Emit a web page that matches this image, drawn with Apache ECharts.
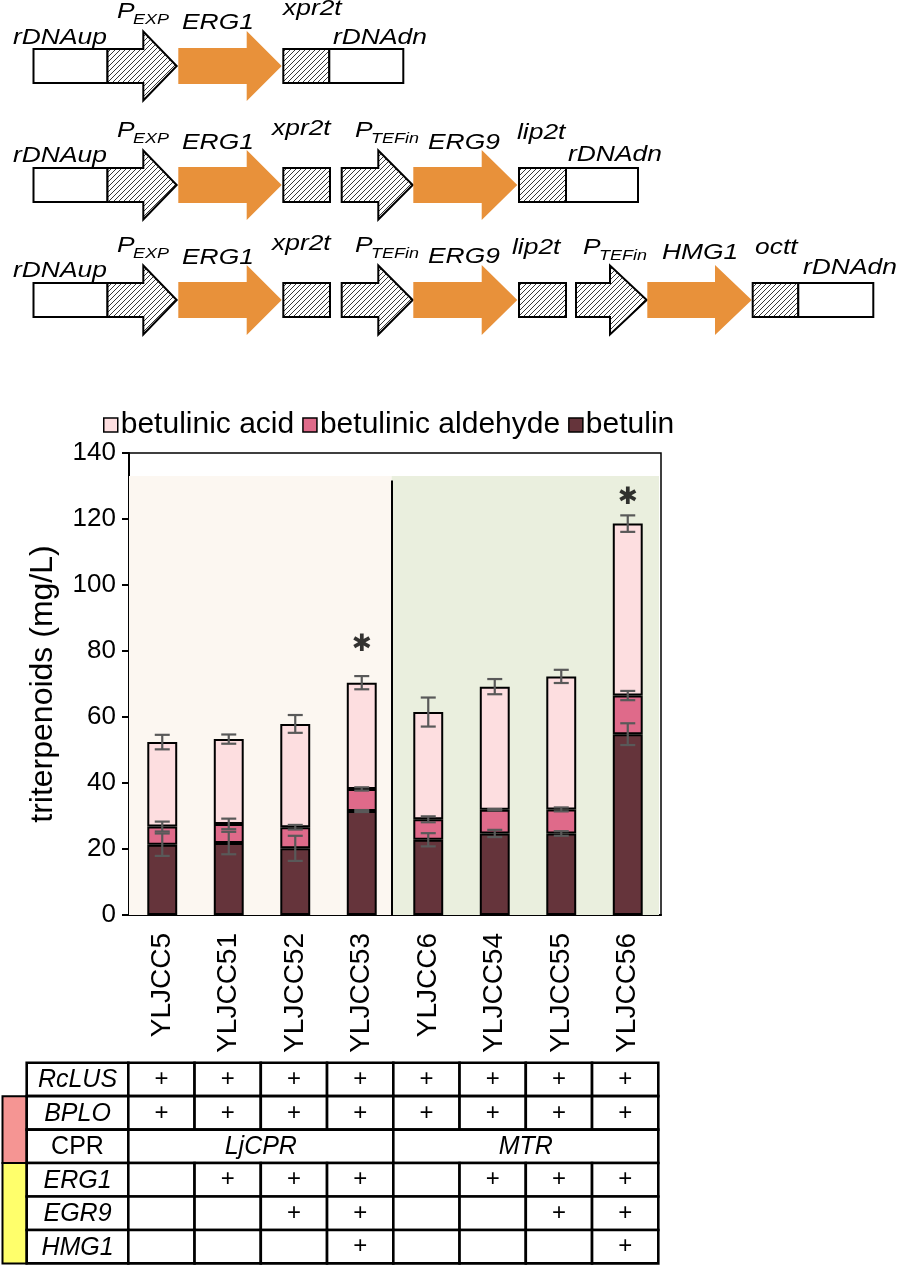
<!DOCTYPE html>
<html><head><meta charset="utf-8">
<script src="https://cdn.jsdelivr.net/npm/echarts@6/dist/echarts.min.js"></script>
<style>html,body{margin:0;padding:0;background:#fff}#c{width:898px;height:1266px}</style>
</head><body><div id="c"></div>
<script>
// ---------- DATA ----------
const categories = ['YLJCC5','YLJCC51','YLJCC52','YLJCC53','YLJCC6','YLJCC54','YLJCC55','YLJCC56'];
const betulin = [21.3, 21.8, 20.2, 31.5, 22.8, 24.7, 24.7, 54.8];
const betulinicAldehyde = [5.5, 5.8, 6.4, 6.7, 6.2, 7.2, 7.3, 11.7];
const betulinicAcid = [25.6, 25.7, 31.3, 32.2, 32.5, 37.3, 40.3, 52.1];
const errBetulin = [3.4, 3.4, 3.8, 0.3, 2.0, 1.1, 0.7, 3.3];
const errAldehyde = [1.5, 1.6, 0.7, 0.5, 0.9, 0.2, 0.6, 1.4];
const errAcid = [2.2, 1.4, 2.7, 2.0, 4.4, 2.3, 2.0, 2.5];
const starY = [null, null, null, 82, null, null, null, 126.5];
const yMin = 0, yMax = 140, yInterval = 20;
const legendNames = ['betulinic acid', 'betulinic aldehyde', 'betulin'];

const tableRowLabels = ['RcLUS', 'BPLO', 'CPR', 'ERG1', 'EGR9', 'HMG1'];
const tableRowItalic = [true, true, false, true, true, true];
const rowRcLUS = [1,1,1,1,1,1,1,1];
const rowBPLO  = [1,1,1,1,1,1,1,1];
const cprGroups = ['LjCPR', 'MTR'];
const cprSpan = [4, 4];
const rowERG1 = [0,1,1,1,0,1,1,1];
const rowEGR9 = [0,0,1,1,0,0,1,1];
const rowHMG1 = [0,0,0,1,0,0,0,1];

// ---------- STYLE ----------
const FONT = '"Liberation Sans", Arial, Helvetica, sans-serif';
const C_BETULIN = '#65343B', C_ALD = '#DF6A8A', C_ACID = '#FDDEE0';
const ORANGE = '#E8913A';

function hatchCanvas(){
  const s = 5;
  const c = document.createElement('canvas'); c.width = s; c.height = s;
  const g = c.getContext('2d');
  g.fillStyle = '#fff'; g.fillRect(0,0,s,s);
  g.strokeStyle = '#222'; g.lineWidth = 0.9;
  g.beginPath();
  g.moveTo(0,s); g.lineTo(s,0);
  g.moveTo(-1,1); g.lineTo(1,-1);
  g.moveTo(s-1,s+1); g.lineTo(s+1,s-1);
  g.stroke();
  return c;
}
const HATCH = {image: hatchCanvas(), repeat: 'repeat'};

// ---------- GENE CONSTRUCT DIAGRAMS ----------
const graphics = [];
function box(x0,x1,cy,fill){
  graphics.push({type:'rect', shape:{x:x0,y:cy-17,width:x1-x0,height:34},
    style:{fill:fill, stroke:'#000', lineWidth:2}, z:10});
}
function arrow(x0,xb,xt,cy,fill,stroke,bh,hh){
  const pts = [[x0,cy-bh],[xb,cy-bh],[xb,cy-hh],[xt,cy],[xb,cy+hh],[xb,cy+bh],[x0,cy+bh]];
  graphics.push({type:'polygon', shape:{points:pts},
    style: stroke ? {fill:fill, stroke:'#000', lineWidth:2, lineJoin:'miter'} : {fill:fill}, z:10});
}
function prom(x0,xb,xt,cy){ arrow(x0,xb,xt,cy,HATCH,true,17,34.5); }
function gene(x0,xb,xt,cy){ arrow(x0,xb,xt,cy,ORANGE,false,18,35); }
function lab(t,x,y,size){
  graphics.push({type:'text', x:x, y:y, scaleX:1.2, z:11,
    style:{text:t, font:'italic '+(size||22)+'px '+FONT, fill:'#000', align:'left', verticalAlign:'middle'}});
}
function plab(sub,x,y){
  lab('P',x,y,22);
  lab(sub,x+16,y+8,15);
}

// row 1
(function(){
  const cy = 66;
  box(33.5,107.5,cy,'#fff'); prom(107.5,143.3,176.7,cy); gene(178.3,246.7,281.7,cy);
  box(283.3,329.3,cy,HATCH); box(329.3,403.3,cy,'#fff');
  lab('rDNAup',13,cy-28); plab('EXP',117,cy-54); lab('ERG1',182,cy-43);
  lab('xpr2t',283,cy-57); lab('rDNAdn',333,cy-28);
})();
// row 2
(function(){
  const cy = 185;
  box(33.5,107.5,cy,'#fff'); prom(107.5,143.3,176.7,cy); gene(178.3,246.7,281.7,cy);
  box(283.3,330,cy,HATCH); prom(341.7,378.3,412.7,cy); gene(413.3,481.7,517.3,cy);
  box(519,566,cy,HATCH); box(566,638,cy,'#fff');
  lab('rDNAup',13,cy-29); plab('EXP',117,cy-54); lab('ERG1',182,cy-42);
  lab('xpr2t',272,cy-56); plab('TEFin',355,cy-54); lab('ERG9',428,cy-42);
  lab('lip2t',517,cy-52); lab('rDNAdn',568,cy-30);
})();
// row 3
(function(){
  const cy = 300;
  box(33.5,107.5,cy,'#fff'); prom(107.5,143.3,176.7,cy); gene(178.3,246.7,281.7,cy);
  box(283.3,330,cy,HATCH); prom(341.7,378.3,412.7,cy); gene(413.3,481.7,517.3,cy);
  box(519,566,cy,HATCH); prom(576,610,646.7,cy); gene(647.3,715,751.7,cy);
  box(752.7,798.3,cy,HATCH); box(798.3,873.3,cy,'#fff');
  lab('rDNAup',13,cy-29); plab('EXP',117,cy-54); lab('ERG1',182,cy-42);
  lab('xpr2t',272,cy-56); plab('TEFin',355,cy-54); lab('ERG9',428,cy-43);
  lab('lip2t',512,cy-52); plab('TEFin',583,cy-52); lab('HMG1',662,cy-47);
  lab('octt',755,cy-52); lab('rDNAdn',803,cy-32);
})();

// ---------- TABLE ----------
(function(){
  const labL = 26.7, colL = 128.3, colW = 66.25, top = 1062.7, rowH = 33.45, LW = 2.6;
  const rows = [rowRcLUS, rowBPLO, null, rowERG1, rowEGR9, rowHMG1];
  graphics.push({type:'rect', shape:{x:2.5,y:top+rowH,width:labL-2.5,height:rowH*2},
    style:{fill:'#F59593',stroke:'#000',lineWidth:2}, z:9});
  graphics.push({type:'rect', shape:{x:2.5,y:top+rowH*3,width:labL-2.5,height:rowH*3},
    style:{fill:'#FFFF6B',stroke:'#000',lineWidth:2}, z:9});
  tableRowLabels.forEach((name, r) => {
    const y = top + r*rowH;
    graphics.push({type:'rect', shape:{x:labL,y:y,width:colL-labL,height:rowH},
      style:{fill:'#fff',stroke:'#000',lineWidth:LW}, z:10});
    graphics.push({type:'text', x:(labL+colL)/2, y:y+rowH/2+1, z:12,
      style:{text:name, font:(tableRowItalic[r]?'italic ':'')+'25px '+FONT, fill:'#000', align:'center', verticalAlign:'middle'}});
    if (rows[r]) {
      rows[r].forEach((v, c) => {
        const x = colL + c*colW;
        graphics.push({type:'rect', shape:{x:x,y:y,width:colW,height:rowH},
          style:{fill:'#fff',stroke:'#000',lineWidth:LW}, z:10});
        if (v) graphics.push({type:'text', x:x+colW/2, y:y+rowH/2, z:12,
          style:{text:'+', font:'24px '+FONT, fill:'#000', align:'center', verticalAlign:'middle'}});
      });
    } else {
      let c0 = 0;
      cprGroups.forEach((g, k) => {
        const x = colL + c0*colW, w = cprSpan[k]*colW;
        graphics.push({type:'rect', shape:{x:x,y:y,width:w,height:rowH},
          style:{fill:'#fff',stroke:'#000',lineWidth:LW}, z:10});
        graphics.push({type:'text', x:x+w/2, y:y+rowH/2+1, z:12,
          style:{text:g, font:'italic 25px '+FONT, fill:'#000', align:'center', verticalAlign:'middle'}});
        c0 += cprSpan[k];
      });
    }
  });
})();

// ---------- ERROR BARS ----------
const errData = [];
categories.forEach((c, i) => {
  const t1 = betulin[i], t2 = t1 + betulinicAldehyde[i], t3 = t2 + betulinicAcid[i];
  errData.push([i, t1, errBetulin[i]], [i, t2, errAldehyde[i]], [i, t3, errAcid[i]]);
});
const starData = [];
starY.forEach((v, i) => { if (v != null) starData.push([i, v]); });

const chart = echarts.init(document.getElementById('c'), null, {renderer:'canvas', width:898, height:1266});
const option = {
  animation: false,
  backgroundColor: '#fff',
  textStyle: {fontFamily: FONT},
  legend: {
    data: legendNames, left: 103, top: 410, icon: 'rect', padding: 0,
    itemWidth: 14, itemHeight: 14, itemGap: 8,
    itemStyle: {borderColor: '#000', borderWidth: 1.5},
    textStyle: {fontSize: 30, color: '#000', fontFamily: FONT, padding: [0,0,0,-2]}
  },
  grid: {left: 129, top: 453, width: 532, height: 462, show: true, borderColor: '#000', borderWidth: 1.5, backgroundColor: 'transparent'},
  xAxis: [{
    type: 'category', data: categories,
    axisLine: {lineStyle: {color: '#000', width: 2}},
    axisTick: {alignWithLabel: true, length: 7, lineStyle: {color: '#000', width: 2}},
    axisLabel: {rotate: 90, fontSize: 28, color: '#000', margin: 18, fontFamily: FONT}
  }, {
    type: 'value', min: 0, max: 8, show: false
  }],
  yAxis: {
    type: 'value', min: yMin, max: yMax, interval: yInterval,
    name: 'triterpenoids (mg/L)', nameLocation: 'middle', nameGap: 70, nameRotate: 90,
    nameTextStyle: {fontSize: 32, color: '#000', fontFamily: FONT},
    axisLine: {show: true, lineStyle: {color: '#000', width: 2}},
    axisTick: {show: true, length: 7, lineStyle: {color: '#000', width: 2}},
    axisLabel: {fontSize: 26, color: '#000', margin: 13, fontFamily: FONT},
    splitLine: {show: false}
  },
  series: [
    {
      name: 'bg', type: 'line', xAxisIndex: 1, data: [[0,0]], showSymbol: false, silent: true,
      lineStyle: {opacity: 0}, z: 0,
      markArea: {silent: true, itemStyle: {opacity: 1},
        data: [
          [{xAxis: 0, yAxis: 0, itemStyle: {color: '#FCF7F1'}}, {xAxis: 3.95, yAxis: 133}],
          [{xAxis: 3.95, yAxis: 0, itemStyle: {color: '#EAEFDE'}}, {xAxis: 7.97, yAxis: 133}]
        ]},
      markLine: {silent: true, symbol: 'none', label: {show: false},
        lineStyle: {color: '#000', width: 2, type: 'solid'},
        data: [[{coord: [3.95, 0]}, {coord: [3.95, 131.7]}]]}
    },
    {name: 'betulin', type: 'bar', stack: 'total', data: betulin, barWidth: '45%',
      itemStyle: {color: C_BETULIN, borderColor: '#000', borderWidth: 2}, z: 3},
    {name: 'betulinic aldehyde', type: 'bar', stack: 'total', data: betulinicAldehyde, barWidth: '45%',
      itemStyle: {color: C_ALD, borderColor: '#000', borderWidth: 2}, z: 3},
    {name: 'betulinic acid', type: 'bar', stack: 'total', data: betulinicAcid, barWidth: '45%',
      itemStyle: {color: C_ACID, borderColor: '#000', borderWidth: 2}, z: 3},
    {name: 'err', type: 'custom', data: errData, z: 5, silent: true,
      renderItem: function(params, api){
        const x = api.value(0), y = api.value(1), e = api.value(2);
        const p1 = api.coord([x, y + e]), p2 = api.coord([x, y - e]);
        const hw = 7.5, st = {stroke: '#595959', lineWidth: 2.2};
        return {type: 'group', children: [
          {type: 'line', shape: {x1: p1[0], y1: p1[1], x2: p2[0], y2: p2[1]}, style: st},
          {type: 'line', shape: {x1: p1[0]-hw, y1: p1[1], x2: p1[0]+hw, y2: p1[1]}, style: st},
          {type: 'line', shape: {x1: p2[0]-hw, y1: p2[1], x2: p2[0]+hw, y2: p2[1]}, style: st}
        ]};
      }},
    {name: 'star', type: 'scatter', data: starData, symbolSize: 1, silent: true, z: 6,
      itemStyle: {color: 'rgba(0,0,0,0)'},
      label: {show: true, position: 'inside', formatter: '\u2731', fontSize: 24, fontWeight: 'bold', color: '#000', fontFamily: '"DejaVu Sans"'}}
  ],
  graphic: graphics
};
chart.setOption(option);
</script>
</body></html>
